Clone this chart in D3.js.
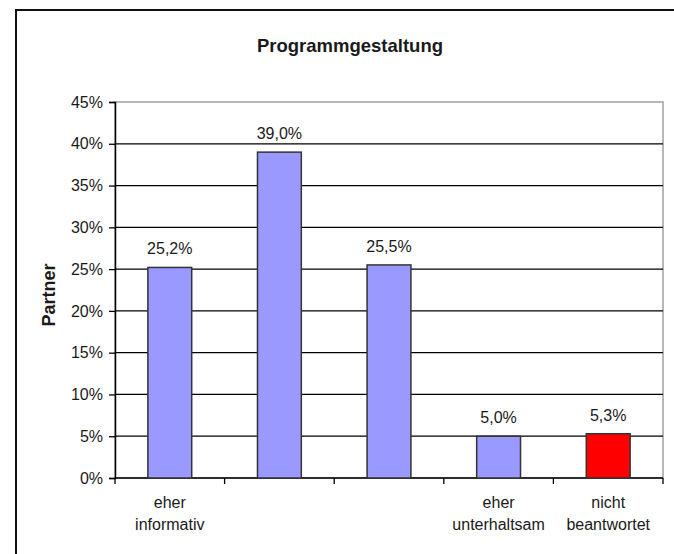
<html>
<head>
<script src="https://d3js.org/d3.v7.min.js"></script>
<style>
  body { margin: 0; background: #fff; }
  text { font-family: "Liberation Sans", Arial, sans-serif; fill: #1a1a1a; }
</style>
</head>
<body>
<svg id="chart"></svg>
<script>

// data
var categories = ["informativ", "k2", "k3", "unterhaltsam", "nicht"];
var catLabels = [["eher", "informativ"], [], [], ["eher", "unterhaltsam"], ["nicht", "beantwortet"]];
var values = [25.2, 39.0, 25.5, 5.0, 5.3];
var valueLabels = ["25,2%", "39,0%", "25,5%", "5,0%", "5,3%"];
var barColors = ["#9999ff", "#9999ff", "#9999ff", "#9999ff", "#ff0000"];
var yTicks = [0, 5, 10, 15, 20, 25, 30, 35, 40, 45];

var width = 674;
var height = 554;

var svg = d3.select("#chart")
    .attr("width", width)
    .attr("height", height);

// outer frame
svg.append("path")
    .attr("d", "M16,560 L16,10 L680,10")
    .attr("fill", "none")
    .attr("stroke", "#111")
    .attr("stroke-width", 2);

// plot area (top is window.top, so other names)
var plotLeft = 115, plotRight = 663, plotTop = 102, plotBottom = 478;

var xScale = d3.scaleBand()
    .domain(categories)
    .range([plotLeft, plotRight])
    .paddingInner(0.6)
    .paddingOuter(0.3);

var yScale = d3.scaleLinear()
    .domain([0, 45])
    .range([plotBottom, plotTop]);

// plot area border (grey)
svg.append("rect")
    .attr("x", plotLeft)
    .attr("y", plotTop)
    .attr("width", plotRight - plotLeft)
    .attr("height", plotBottom - plotTop)
    .attr("fill", "none")
    .attr("stroke", "#a0a0a0")
    .attr("stroke-width", 1.5);

// gridlines
svg.selectAll("line.grid")
    .data(yTicks.filter(function(d) { return d > 0 && d < 45; }))
    .enter()
    .append("line")
    .attr("class", "grid")
    .attr("x1", plotLeft)
    .attr("x2", plotRight)
    .attr("y1", function(d) { return yScale(d); })
    .attr("y2", function(d) { return yScale(d); })
    .attr("stroke", "#000")
    .attr("stroke-width", 1.3);

// y axis
var yAxis = d3.axisLeft(yScale)
    .tickValues(yTicks)
    .tickSize(6)
    .tickPadding(6)
    .tickFormat(function(d) { return d + "%"; });

var gy = svg.append("g")
    .attr("transform", "translate(" + plotLeft + ",0)")
    .call(yAxis);
gy.select(".domain").attr("stroke", "#000").attr("stroke-width", 1.5);
gy.selectAll(".tick line").attr("stroke", "#000").attr("stroke-width", 1.3);
gy.selectAll(".tick text")
    .style("font-size", "16px")
    .style("font-family", "Liberation Sans, Arial, sans-serif")
    .attr("fill", "#1a1a1a");

// x axis ticks at category boundaries
var boundaries = d3.range(categories.length + 1).map(function(i) {
    return plotLeft + i * (plotRight - plotLeft) / categories.length;
});
svg.append("line")
    .attr("x1", plotLeft).attr("x2", plotRight)
    .attr("y1", plotBottom).attr("y2", plotBottom)
    .attr("stroke", "#000")
    .attr("stroke-width", 1.5);
svg.selectAll("line.xtick")
    .data(boundaries)
    .enter()
    .append("line")
    .attr("class", "xtick")
    .attr("x1", function(d) { return d; })
    .attr("x2", function(d) { return d; })
    .attr("y1", plotBottom)
    .attr("y2", plotBottom + 6)
    .attr("stroke", "#000")
    .attr("stroke-width", 1.3);

// bars
svg.selectAll("rect.bar")
    .data(values)
    .enter()
    .append("rect")
    .attr("class", "bar")
    .attr("x", function(d, i) { return xScale(categories[i]); })
    .attr("y", function(d) { return yScale(d); })
    .attr("width", xScale.bandwidth())
    .attr("height", function(d) { return plotBottom - yScale(d); })
    .attr("fill", function(d, i) { return barColors[i]; })
    .attr("stroke", "#333")
    .attr("stroke-width", 1.5);

// value labels
svg.selectAll("text.val")
    .data(values)
    .enter()
    .append("text")
    .attr("class", "val")
    .attr("x", function(d, i) { return xScale(categories[i]) + xScale.bandwidth() / 2; })
    .attr("y", function(d) { return yScale(d) - 13; })
    .attr("text-anchor", "middle")
    .style("font-size", "16px")
    .text(function(d, i) { return valueLabels[i]; });

// category labels
categories.forEach(function(c, i) {
    var cx = xScale(c) + xScale.bandwidth() / 2;
    catLabels[i].forEach(function(line, j) {
        svg.append("text")
            .attr("x", cx)
            .attr("y", 508 + j * 22)
            .attr("text-anchor", "middle")
            .style("font-size", "16px")
            .text(line);
    });
});

// title
svg.append("text")
    .attr("x", 350)
    .attr("y", 52)
    .attr("text-anchor", "middle")
    .style("font-size", "18.5px")
    .style("font-weight", "bold")
    .text("Programmgestaltung");

// y axis title
svg.append("text")
    .attr("transform", "translate(55,295) rotate(-90)")
    .attr("text-anchor", "middle")
    .style("font-size", "18px")
    .style("font-weight", "bold")
    .text("Partner");

</script>
</body>
</html>
